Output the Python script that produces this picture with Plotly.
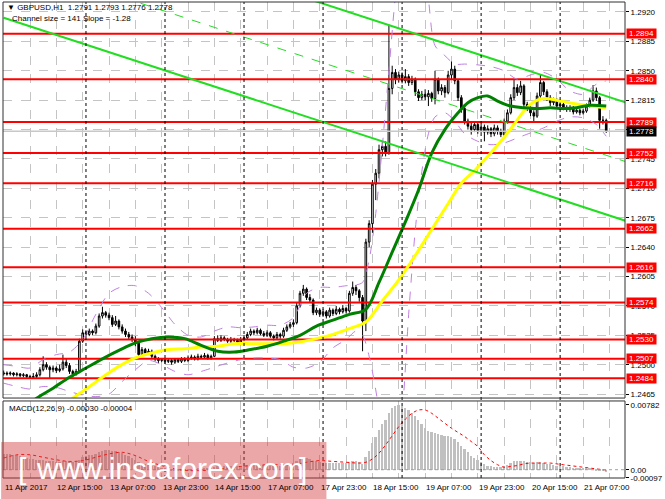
import plotly.graph_objects as go

# GBPUSD H1, one candle per hour from 11 Apr 23:00 to 21 Apr 14:00 (one row per trading day)
opens = [
    1.2489, 1.2490, 1.2489, 1.2490, 1.2488, 1.2489, 1.2487, 1.2488, 1.2486, 1.2485, 1.2486, 1.2488, 1.2494, 1.2500, 1.2497, 1.2494, 1.2496, 1.2493, 1.2495, 1.2503, 1.2499, 1.2492, 1.2489, 1.2492, 1.2528,
    1.2538, 1.2536, 1.2540, 1.2538, 1.2546, 1.2558, 1.2562, 1.2559, 1.2556, 1.2548, 1.2552, 1.2545, 1.2540, 1.2536, 1.2533, 1.2530, 1.2526, 1.2512, 1.2518, 1.2514, 1.2516, 1.2510, 1.2507, 1.2505,
    1.2506, 1.2504, 1.2505, 1.2503, 1.2506, 1.2504, 1.2507, 1.2505, 1.2508, 1.2509, 1.2507, 1.2510, 1.2509, 1.2511, 1.2508, 1.2510, 1.2531, 1.2529, 1.2532, 1.2530, 1.2528, 1.2530, 1.2529, 1.2527,
    1.2530, 1.2532, 1.2536, 1.2540, 1.2538, 1.2541, 1.2537, 1.2535, 1.2538, 1.2534, 1.2532, 1.2536, 1.2534, 1.2541, 1.2545, 1.2548, 1.2550, 1.2570, 1.2585, 1.2590, 1.2580, 1.2577, 1.2562, 1.2565,
    1.2560, 1.2563, 1.2558, 1.2565, 1.2561, 1.2566, 1.2563, 1.2567, 1.2564, 1.2585, 1.2592, 1.2588, 1.2580, 1.2552, 1.2646, 1.2668, 1.2715, 1.2728, 1.2756, 1.2760, 1.2752, 1.2829, 1.2848, 1.2840,
    1.2845, 1.2838, 1.2843, 1.2836, 1.2840, 1.2825, 1.2818, 1.2822, 1.2819, 1.2823, 1.2817, 1.2840, 1.2826, 1.2830, 1.2824, 1.2845, 1.2852, 1.2838, 1.2818, 1.2805, 1.2790, 1.2784, 1.2780, 1.2786,
    1.2779, 1.2783, 1.2777, 1.2781, 1.2775, 1.2782, 1.2778, 1.2774, 1.2790, 1.2800, 1.2818, 1.2830, 1.2824, 1.2832, 1.2810, 1.2806, 1.2800, 1.2796, 1.2820, 1.2836, 1.2825, 1.2818, 1.2812, 1.2815,
    1.2808, 1.2810, 1.2806, 1.2804, 1.2806, 1.2801, 1.2803, 1.2800, 1.2802, 1.2808, 1.2815, 1.2826, 1.2818, 1.2791, 1.2791,
]
highs = [
    1.2493, 1.2492, 1.2492, 1.2491, 1.2491, 1.2490, 1.2490, 1.2489, 1.2488, 1.2490, 1.2491, 1.2497, 1.2510, 1.2503, 1.2499, 1.2499, 1.2498, 1.2500, 1.2512, 1.2507, 1.2502, 1.2494, 1.2495, 1.2531, 1.2542,
    1.2541, 1.2543, 1.2542, 1.2549, 1.2561, 1.2569, 1.2564, 1.2562, 1.2559, 1.2558, 1.2554, 1.2548, 1.2543, 1.2539, 1.2536, 1.2534, 1.2528, 1.2521, 1.2520, 1.2519, 1.2518, 1.2512, 1.2509, 1.2508,
    1.2508, 1.2507, 1.2507, 1.2508, 1.2508, 1.2509, 1.2509, 1.2511, 1.2512, 1.2511, 1.2513, 1.2512, 1.2514, 1.2513, 1.2512, 1.2534, 1.2535, 1.2535, 1.2534, 1.2532, 1.2533, 1.2532, 1.2531, 1.2533,
    1.2535, 1.2539, 1.2543, 1.2542, 1.2544, 1.2543, 1.2540, 1.2541, 1.2540, 1.2536, 1.2539, 1.2538, 1.2544, 1.2548, 1.2551, 1.2554, 1.2574, 1.2588, 1.2595, 1.2592, 1.2584, 1.2579, 1.2568, 1.2567,
    1.2566, 1.2565, 1.2568, 1.2567, 1.2570, 1.2568, 1.2571, 1.2569, 1.2588, 1.2599, 1.2595, 1.2590, 1.2583, 1.2650, 1.2672, 1.2720, 1.2733, 1.2762, 1.2765, 1.2766, 1.2905, 1.2856, 1.2852, 1.2849,
    1.2848, 1.2852, 1.2846, 1.2844, 1.2842, 1.2828, 1.2826, 1.2828, 1.2827, 1.2825, 1.2850, 1.2842, 1.2834, 1.2833, 1.2850, 1.2861, 1.2856, 1.2840, 1.2821, 1.2808, 1.2793, 1.2788, 1.2790, 1.2789,
    1.2787, 1.2786, 1.2785, 1.2783, 1.2786, 1.2785, 1.2781, 1.2793, 1.2804, 1.2822, 1.2840, 1.2834, 1.2838, 1.2834, 1.2813, 1.2809, 1.2803, 1.2824, 1.2845, 1.2838, 1.2828, 1.2821, 1.2818, 1.2817,
    1.2813, 1.2812, 1.2809, 1.2809, 1.2808, 1.2806, 1.2805, 1.2805, 1.2811, 1.2818, 1.2833, 1.2830, 1.2820, 1.2796, 1.2793,
]
lows = [
    1.2487, 1.2487, 1.2487, 1.2486, 1.2486, 1.2485, 1.2485, 1.2484, 1.2483, 1.2483, 1.2484, 1.2486, 1.2492, 1.2494, 1.2483, 1.2491, 1.2490, 1.2491, 1.2493, 1.2496, 1.2489, 1.2485, 1.2487, 1.2490, 1.2526,
    1.2533, 1.2534, 1.2535, 1.2536, 1.2544, 1.2555, 1.2556, 1.2553, 1.2545, 1.2546, 1.2542, 1.2537, 1.2533, 1.2530, 1.2527, 1.2522, 1.2509, 1.2510, 1.2511, 1.2512, 1.2508, 1.2504, 1.2502, 1.2503,
    1.2501, 1.2502, 1.2500, 1.2501, 1.2502, 1.2502, 1.2503, 1.2503, 1.2506, 1.2505, 1.2505, 1.2507, 1.2507, 1.2506, 1.2506, 1.2509, 1.2527, 1.2527, 1.2528, 1.2526, 1.2526, 1.2527, 1.2525, 1.2525,
    1.2528, 1.2530, 1.2534, 1.2535, 1.2536, 1.2535, 1.2533, 1.2533, 1.2532, 1.2529, 1.2530, 1.2531, 1.2532, 1.2539, 1.2543, 1.2545, 1.2548, 1.2568, 1.2582, 1.2577, 1.2574, 1.2559, 1.2559, 1.2557,
    1.2557, 1.2555, 1.2556, 1.2558, 1.2559, 1.2560, 1.2561, 1.2561, 1.2562, 1.2582, 1.2583, 1.2575, 1.2516, 1.2540, 1.2640, 1.2657, 1.2696, 1.2722, 1.2748, 1.2748, 1.2750, 1.2822, 1.2834, 1.2836,
    1.2835, 1.2835, 1.2832, 1.2833, 1.2820, 1.2814, 1.2815, 1.2815, 1.2808, 1.2813, 1.2810, 1.2822, 1.2821, 1.2818, 1.2822, 1.2840, 1.2834, 1.2814, 1.2800, 1.2786, 1.2780, 1.2774, 1.2777, 1.2775,
    1.2776, 1.2766, 1.2774, 1.2771, 1.2772, 1.2774, 1.2771, 1.2772, 1.2787, 1.2798, 1.2815, 1.2820, 1.2821, 1.2806, 1.2802, 1.2796, 1.2790, 1.2794, 1.2818, 1.2821, 1.2814, 1.2808, 1.2809, 1.2805,
    1.2805, 1.2803, 1.2801, 1.2801, 1.2798, 1.2799, 1.2797, 1.2798, 1.2800, 1.2806, 1.2813, 1.2814, 1.2781, 1.2786, 1.2776,
]
closes = [
    1.2490, 1.2489, 1.2490, 1.2488, 1.2489, 1.2487, 1.2488, 1.2486, 1.2485, 1.2486, 1.2488, 1.2494, 1.2500, 1.2497, 1.2494, 1.2496, 1.2493, 1.2495, 1.2503, 1.2499, 1.2492, 1.2489, 1.2492, 1.2528, 1.2538,
    1.2536, 1.2540, 1.2538, 1.2546, 1.2558, 1.2562, 1.2559, 1.2556, 1.2548, 1.2552, 1.2545, 1.2540, 1.2536, 1.2533, 1.2530, 1.2526, 1.2512, 1.2518, 1.2514, 1.2516, 1.2510, 1.2507, 1.2505, 1.2506,
    1.2504, 1.2505, 1.2503, 1.2506, 1.2504, 1.2507, 1.2505, 1.2508, 1.2509, 1.2507, 1.2510, 1.2509, 1.2511, 1.2508, 1.2510, 1.2531, 1.2529, 1.2532, 1.2530, 1.2528, 1.2530, 1.2529, 1.2527, 1.2530,
    1.2532, 1.2536, 1.2540, 1.2538, 1.2541, 1.2537, 1.2535, 1.2538, 1.2534, 1.2532, 1.2536, 1.2534, 1.2541, 1.2545, 1.2548, 1.2550, 1.2570, 1.2585, 1.2590, 1.2580, 1.2577, 1.2562, 1.2565, 1.2560,
    1.2563, 1.2558, 1.2565, 1.2561, 1.2566, 1.2563, 1.2567, 1.2564, 1.2585, 1.2592, 1.2588, 1.2580, 1.2552, 1.2646, 1.2668, 1.2715, 1.2728, 1.2756, 1.2760, 1.2752, 1.2829, 1.2848, 1.2840, 1.2845,
    1.2838, 1.2843, 1.2836, 1.2840, 1.2825, 1.2818, 1.2822, 1.2819, 1.2823, 1.2817, 1.2840, 1.2826, 1.2830, 1.2824, 1.2845, 1.2852, 1.2838, 1.2818, 1.2805, 1.2790, 1.2784, 1.2780, 1.2786, 1.2779,
    1.2783, 1.2777, 1.2781, 1.2775, 1.2782, 1.2778, 1.2774, 1.2790, 1.2800, 1.2818, 1.2830, 1.2824, 1.2832, 1.2810, 1.2806, 1.2800, 1.2796, 1.2820, 1.2836, 1.2825, 1.2818, 1.2812, 1.2815, 1.2808,
    1.2810, 1.2806, 1.2804, 1.2806, 1.2801, 1.2803, 1.2800, 1.2802, 1.2808, 1.2815, 1.2826, 1.2818, 1.2791, 1.2791, 1.2778,
]

# MACD(12,26,9) histogram, one value per candle
macd_hist = [
    0.0019, 0.0019, 0.0019, 0.0018, 0.0018, 0.0017, 0.0015, 0.0014, 0.0013, 0.0013, 0.0012, 0.0012, 0.0012, 0.0011, 0.0010, 0.0010, 0.0009, 0.0009, 0.0010, 0.0010, 0.0010, 0.0009, 0.0009, 0.0012, 0.0015,
    0.0017, 0.0018, 0.0018, 0.0019, 0.0021, 0.0023, 0.0024, 0.0024, 0.0023, 0.0022, 0.0021, 0.0020, 0.0018, 0.0016, 0.0014, 0.0012, 0.0009, 0.0008, 0.0007, 0.0006, 0.0005, 0.0004, 0.0003, 0.0002,
    0.0001, 0.0000, -0.0001, -0.0001, -0.0001, -0.0002, -0.0001, -0.0001, -0.0001, 0.0000, 0.0001, 0.0001, 0.0001, 0.0001, 0.0001, 0.0003, 0.0004, 0.0004, 0.0005, 0.0005, 0.0005, 0.0005, 0.0005, 0.0005,
    0.0005, 0.0006, 0.0006, 0.0006, 0.0006, 0.0006, 0.0006, 0.0006, 0.0005, 0.0005, 0.0005, 0.0005, 0.0006, 0.0007, 0.0008, 0.0008, 0.0010, 0.0013, 0.0014, 0.0014, 0.0013, 0.0011, 0.0010, 0.0009,
    0.0008, 0.0008, 0.0008, 0.0008, 0.0008, 0.0008, 0.0008, 0.0008, 0.0009, 0.0010, 0.0010, 0.0009, 0.0007, 0.0015, 0.0023, 0.0032, 0.0040, 0.0048, 0.0055, 0.0060, 0.0068, 0.0074, 0.0077, 0.0078,
    0.0077, 0.0075, 0.0072, 0.0069, 0.0065, 0.0060, 0.0055, 0.0050, 0.0047, 0.0045, 0.0044, 0.0043, 0.0042, 0.0041, 0.0041, 0.0040, 0.0037, 0.0033, 0.0029, 0.0025, 0.0021, 0.0017, 0.0014, 0.0012,
    0.0009, 0.0007, 0.0005, 0.0004, 0.0003, 0.0003, 0.0003, 0.0004, 0.0006, 0.0008, 0.0010, 0.0011, 0.0011, 0.0010, 0.0009, 0.0009, 0.0008, 0.0009, 0.0009, 0.0008, 0.0007, 0.0007, 0.0006, 0.0005,
    0.0005, 0.0004, 0.0003, 0.0003, 0.0002, 0.0002, 0.0001, 0.0001, 0.0001, 0.0001, 0.0000, -0.0001, -0.0002, -0.0002, -0.0003,
]

# MACD signal line, read at sample bars
signal_idx = [0, 4, 8, 12, 16, 20, 24, 28, 32, 36, 40, 44, 48, 52, 56, 60, 64, 68, 72, 76, 80, 84, 88, 92, 96, 100, 104, 108,
              110, 112, 114, 116, 118, 120, 122, 124, 126, 128, 130, 132, 134, 136, 138, 140, 142, 144, 146, 148, 150, 152,
              154, 156, 158, 160, 162, 164, 166, 168, 170, 172, 174, 176, 178, 180, 183]
signal = [0.0014, 0.0018, 0.0018, 0.0015, 0.0012, 0.0010, 0.0011, 0.0015, 0.0019, 0.0021, 0.0017, 0.0010, 0.0005, 0.0001,
          -0.0001, -0.0001, 0.0000, 0.0002, 0.0004, 0.0005, 0.0006, 0.0006, 0.0006, 0.0009, 0.0011, 0.0010, 0.0009, 0.0008,
          0.0009, 0.0013, 0.0020, 0.0030, 0.0041, 0.0052, 0.0061, 0.0068, 0.0072, 0.0072, 0.0068, 0.0062, 0.0056, 0.0050,
          0.0045, 0.0040, 0.0034, 0.0028, 0.0018, 0.0011, 0.0006, 0.0003, 0.0004, 0.0005, 0.0007, 0.0008, 0.0008, 0.0008,
          0.0008, 0.0007, 0.0006, 0.0005, 0.0004, 0.0003, 0.0002, 0.0001, -0.00004]

# moving averages, read at sample bars
green_idx = [6, 10, 15, 20, 25, 30, 35, 40, 45, 50, 55, 60, 65, 70, 75, 80, 85, 90, 95, 100, 105, 110, 114, 118, 122,
             126, 130, 134, 138, 141, 144, 147, 150, 154, 158, 162, 166, 170, 174, 178, 183]
green_ma = [1.2448, 1.2460, 1.2472, 1.2485, 1.2496, 1.2507, 1.2517, 1.2526, 1.2531, 1.2533, 1.2531, 1.2523, 1.2516,
            1.2515, 1.2518, 1.2522, 1.2528, 1.2535, 1.2546, 1.2553, 1.2560, 1.2566, 1.2598, 1.2634, 1.2670, 1.2708,
            1.2752, 1.2780, 1.2800, 1.2812, 1.2818, 1.2820, 1.2814, 1.2808, 1.2806, 1.2805, 1.2806, 1.2805, 1.2806,
            1.2809, 1.2808]
yellow_idx = [18, 21, 25, 30, 35, 40, 45, 50, 55, 60, 65, 70, 75, 80, 85, 90, 95, 100, 105, 110, 115, 120, 125, 130,
              135, 139, 143, 147, 151, 155, 158, 161, 164, 168, 173, 178, 183]
yellow_ma = [1.2450, 1.2460, 1.2471, 1.2485, 1.2498, 1.2508, 1.2514, 1.2518, 1.2519, 1.2521, 1.2522, 1.2525, 1.2525,
             1.2525, 1.2525, 1.2527, 1.2531, 1.2536, 1.2543, 1.2551, 1.2576, 1.2601, 1.2630, 1.2661, 1.2692, 1.2716,
             1.2731, 1.2748, 1.2766, 1.2786, 1.2802, 1.2813, 1.2817, 1.2815, 1.2811, 1.2808, 1.2806]

# bollinger-style envelope (purple dashed)
band_idx = [0, 4, 8, 12, 16, 20, 24, 28, 32, 36, 40, 44, 48, 52, 56, 60, 64, 68, 72, 76, 80, 84, 88, 92, 96, 100,
            104, 107, 109, 111, 113, 115, 117, 119, 121, 123, 125, 127, 129, 131,
            134, 137, 140, 144, 148, 152, 156, 160, 164, 168, 172, 176, 180, 183]
band_upper = [1.2500, 1.2498, 1.2496, 1.2506, 1.2512, 1.2515, 1.2530, 1.2560, 1.2585, 1.2593, 1.2594, 1.2585, 1.2568,
              1.2548, 1.2535, 1.2533, 1.2540, 1.2545, 1.2544, 1.2545, 1.2547, 1.2547, 1.2556, 1.2585, 1.2592, 1.2592,
              1.2594, 1.2595, 1.2598, 1.2625, 1.2680, 1.2760, 1.2850, 1.2940, 1.3000, 1.3020, 1.3020, 1.2990, 1.2935,
              1.2880, 1.2868, 1.2858, 1.2858, 1.2857, 1.2855, 1.2850, 1.2840, 1.2845, 1.2848, 1.2840, 1.2826, 1.2822,
              1.2834, 1.2838]
band_lower = [1.2478, 1.2474, 1.2471, 1.2474, 1.2473, 1.2468, 1.2464, 1.2462, 1.2465, 1.2480, 1.2494, 1.2505, 1.2500,
              1.2492, 1.2488, 1.2492, 1.2497, 1.2502, 1.2506, 1.2508, 1.2508, 1.2506, 1.2497, 1.2496, 1.2503, 1.2520,
              1.2530, 1.2540, 1.2535, 1.2510, 1.2470, 1.2420, 1.2380, 1.2380, 1.2440, 1.2560, 1.2660, 1.2730, 1.2775,
              1.2795, 1.2800, 1.2790, 1.2775, 1.2766, 1.2762, 1.2764, 1.2770, 1.2776, 1.2782, 1.2790, 1.2795, 1.2794,
              1.2786, 1.2772]

# regression channel (size 141, slope -1.28)
channel_idx = [0, 189]
channel_upper = [1.30541, 1.28122]
channel_mid = [1.29836, 1.27417]
channel_lower = [1.29131, 1.26712]

levels = [1.2894, 1.2840, 1.2789, 1.2752, 1.2716, 1.2662, 1.2616, 1.2574, 1.2530, 1.2507, 1.2484]
last_price = 1.2778

time_labels = ["11 Apr 2017", "12 Apr 15:00", "13 Apr 07:00", "13 Apr 23:00", "14 Apr 15:00", "17 Apr 07:00",
               "17 Apr 23:00", "18 Apr 15:00", "19 Apr 07:00", "19 Apr 23:00", "20 Apr 15:00", "21 Apr 07:00"]
label_bars = [0, 16, 32, 48, 64, 80, 96, 112, 128, 144, 160, 176]
day_start_bars = [25, 49, 73, 97, 121, 145, 169]

n = len(closes)
assert len(opens) == n and len(highs) == n and len(lows) == n and len(macd_hist) == n
bars = list(range(n))
x_lo, x_hi = -0.2, 188.7

FONT = "Liberation Sans"
GRID = "#c4c4c4"

fig = go.Figure()

# horizontal support/resistance levels
for lv in levels:
    fig.add_trace(go.Scatter(x=[x_lo, x_hi], y=[lv, lv], mode="lines",
                             line=dict(color="#ff0000", width=2), hoverinfo="skip"))
fig.add_trace(go.Scatter(x=[x_lo, x_hi], y=[last_price, last_price], mode="lines",
                         line=dict(color="#c8c8c8", width=1.5), hoverinfo="skip"))

fig.add_trace(go.Candlestick(
    x=bars, open=opens, high=highs, low=lows, close=closes,
    increasing=dict(line=dict(color="black", width=1), fillcolor="white"),
    decreasing=dict(line=dict(color="black", width=1), fillcolor="black"),
    whiskerwidth=0,
))

# bands, averages and channel
for vals in (band_upper, band_lower):
    fig.add_trace(go.Scatter(x=band_idx, y=vals, mode="lines",
                             line=dict(color="#c080e0", width=1, dash="dash", shape="spline", smoothing=0.8)))
fig.add_trace(go.Scatter(x=yellow_idx, y=yellow_ma, mode="lines",
                         line=dict(color="#ffff00", width=3, shape="spline")))
fig.add_trace(go.Scatter(x=green_idx, y=green_ma, mode="lines",
                         line=dict(color="#008000", width=3, shape="spline")))
for vals, dash, w in ((channel_upper, "solid", 2), (channel_lower, "solid", 2), (channel_mid, "dash", 1)):
    fig.add_trace(go.Scatter(x=channel_idx, y=vals, mode="lines",
                             line=dict(color="#22dd22", width=w, dash=dash)))

# MACD window
fig.add_trace(go.Bar(x=bars, y=macd_hist, yaxis="y2", width=0.55,
                     marker=dict(color="#c0c0c0", line=dict(width=0))))
fig.add_trace(go.Scatter(x=signal_idx, y=signal, yaxis="y2", mode="lines",
                         line=dict(color="#ff0000", width=1, dash="dot", shape="spline")))

shapes = []
for d in day_start_bars:
    shapes.append(dict(type="line", xref="x", yref="paper", x0=d, x1=d, y0=0, y1=1,
                       line=dict(color="#000000", width=1, dash="dot")))
shapes.append(dict(type="line", xref="paper", yref="y2", x0=0, x1=1, y0=0, y1=0,
                   line=dict(color="#a0a0a0", width=1, dash="dot")))
shapes.append(dict(type="rect", xref="paper", yref="paper", x0=0, x1=1, y0=0.168, y1=1,
                   line=dict(color="#303030", width=1)))
shapes.append(dict(type="rect", xref="paper", yref="paper", x0=0, x1=1, y0=0, y1=0.1618,
                   line=dict(color="#303030", width=1)))
# watermark band
shapes.append(dict(type="rect", xref="paper", yref="paper", x0=-0.003, x1=0.52, y0=-0.05, y1=0.0756,
                   fillcolor="rgba(210,60,60,0.45)", line=dict(width=0), layer="above"))

ann = []
small = dict(family=FONT, size=8, color="black")
for lab, b in zip(time_labels, label_bars):
    ann.append(dict(x=b, y=-0.021, xref="x", yref="paper", text=lab, showarrow=False,
                    xanchor="left", yanchor="middle", xshift=-1, font=small))
for lv in levels:
    ann.append(dict(x=1, y=lv, xref="paper", yref="y", text=f"{lv:.4f}", showarrow=False,
                    xanchor="left", yanchor="middle", xshift=1, width=29, height=9,
                    bgcolor="#ff0000", borderpad=0, font=dict(family=FONT, size=8, color="white")))
ann.append(dict(x=1, y=last_price, xref="paper", yref="y", text=f"{last_price:.4f}", showarrow=False,
                xanchor="left", yanchor="middle", xshift=1, width=29, height=9,
                bgcolor="#000000", borderpad=0, font=dict(family=FONT, size=8, color="white")))
ann.append(dict(x=0.003, y=0.988, xref="paper", yref="paper", showarrow=False, xanchor="left", yanchor="middle",
                text="▼ GBPUSD,H1  1.2791 1.2793 1.2776 1.2778", font=small))
ann.append(dict(x=0.012, y=0.965, xref="paper", yref="paper", showarrow=False, xanchor="left", yanchor="middle",
                text="Channel size = 141 Slope = -1.28", font=small))
ann.append(dict(x=0.006, y=0.147, xref="paper", yref="paper", showarrow=False, xanchor="left", yanchor="middle",
                text="MACD(12,26,9) -0.00030 -0.00004", font=small))
wm = dict(family=FONT, size=30, color="white")
ann.append(dict(x=0.031, y=0.019, xref="paper", yref="paper", showarrow=False, text="[",
                xanchor="center", yanchor="middle", font=wm))
ann.append(dict(x=0.268, y=0.019, xref="paper", yref="paper", showarrow=False, text="www.instaforex.com",
                xanchor="center", yanchor="middle", font=wm))
ann.append(dict(x=0.483, y=0.019, xref="paper", yref="paper", showarrow=False, text="]",
                xanchor="center", yanchor="middle", font=wm))

fig.update_layout(
    width=665, height=499,
    margin=dict(l=3, r=33, t=2, b=21),
    paper_bgcolor="white", plot_bgcolor="white",
    showlegend=False,
    bargap=0,
    font=dict(family=FONT, size=8, color="black"),
    xaxis=dict(range=[x_lo, x_hi], anchor="y2", rangeslider=dict(visible=False),
               tickvals=list(range(0, 189, 8)), showticklabels=False, ticks="",
               showgrid=True, gridcolor=GRID, griddash="dash", gridwidth=1, zeroline=False),
    yaxis=dict(domain=[0.168, 1], range=[1.24603, 1.29319], side="right",
               tick0=1.2465, dtick=0.0035, tickformat=".4f", ticks="outside", ticklen=3,
               tickcolor="black", showgrid=True, gridcolor=GRID, griddash="dash", zeroline=False,
               tickfont=small),
    yaxis2=dict(domain=[0, 0.1618], range=[-0.00100, 0.00829], side="right", anchor="x",
                tickvals=[0.00782, 0, -0.00097], ticktext=["0.00782", "0.00", "-0.00097"],
                ticks="outside", ticklen=3, tickcolor="black", showgrid=False, zeroline=False,
                tickfont=small),
    shapes=shapes,
    annotations=ann,
)

# drop the default page margin so the 665x499 figure fills the window exactly
fig.write_html("out.html", config={"displayModeBar": False},
               post_script="document.body.style.margin='0';document.body.style.overflow='hidden';")
